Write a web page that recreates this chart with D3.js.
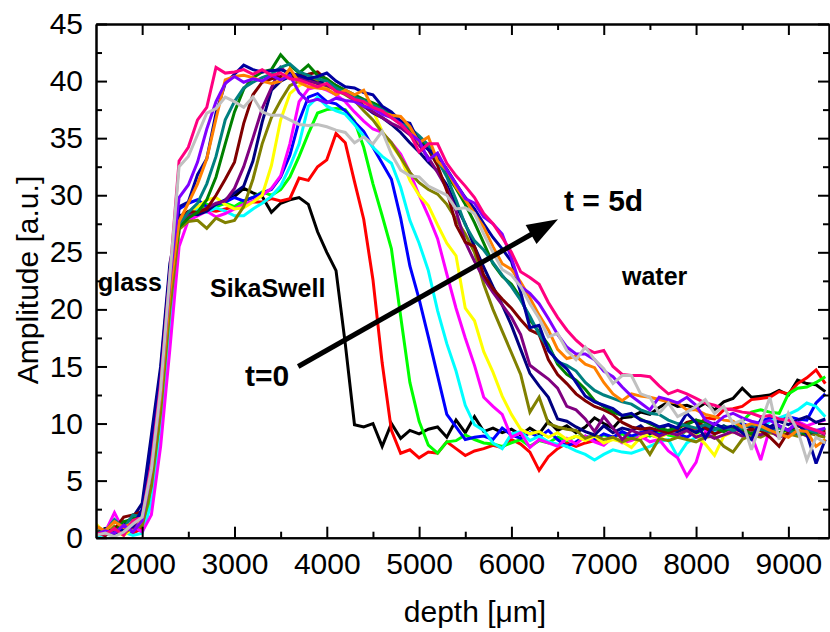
<!DOCTYPE html>
<html>
<head>
<meta charset="utf-8">
<script src="https://cdn.jsdelivr.net/npm/d3@7"></script>
<style>
  html, body { margin: 0; padding: 0; background: #fff; }
  svg { display: block; font-family: "Liberation Sans", Arial, Helvetica, sans-serif; }
</style>
</head>
<body>
<svg id="chart" width="830" height="632"></svg>
<script>
// Depth sampling positions (µm), shared by every profile
const depth = [
  1500,1600,1700,1800,1900,2000,2100,2200,2300,2400,
  2500,2600,2700,2800,2900,3000,3100,3200,3300,3400,
  3500,3600,3700,3800,3900,4000,4100,4200,4300,4400,
  4500,4600,4700,4800,4900,5000,5100,5200,5300,5400,
  5500,5600,5700,5800,5900,6000,6100,6200,6300,6400,
  6500,6600,6700,6800,6900,7000,7100,7200,7300,7400,
  7500,7600,7700,7800,7900,8000,8100,8200,8300,8400,
  8500,8600,8700,8800,8900,9000,9100,9200,9300,9400
];

// Amplitude profiles [a.u.], one per measurement time (t = 0 ... 5 d)
const ampBlack = [
  0.5,0.8,0.3,1.0,1.2,2.0,7.5,13.0,21.0,27.5,
  28.3,28.5,28.6,29.0,29.5,29.9,30.6,30.2,29.9,28.5,
  29.3,29.6,29.8,29.2,26.8,25.0,23.4,17.0,9.9,9.7,
  10.0,8.0,10.0,8.7,9.4,9.1,9.5,9.7,8.8,10.3,
  9.2,10.6,9.3,9.6,9.2,9.5,9.0,9.6,9.1,10.2,
  9.4,9.8,9.2,9.7,10.5,10.0,9.6,10.5,10.6,11.0,
  10.8,11.4,11.9,11.5,11.6,11.3,11.8,11.2,11.9,12.2,
  13.1,12.3,12.4,12.5,12.9,12.5,13.8,13.5,13.4,12.8
];
const ampRed = [
  0.3,0.5,0.2,0.6,0.4,0.8,3.5,10.0,19.0,27.0,
  28.2,28.5,28.7,28.6,28.8,29.0,29.2,29.4,29.4,29.7,
  29.5,29.7,31.5,31.3,32.5,33.1,35.4,34.6,31.2,27.9,
  22.6,15.3,9.4,7.4,7.7,7.0,7.5,7.4,8.4,7.8,
  7.2,7.6,7.8,8.1,7.9,8.6,8.2,7.5,5.9,7.1,
  7.8,8.3,8.0,8.3,8.5,8.2,8.8,8.4,8.9,8.7,
  9.0,8.8,9.3,9.1,9.7,9.5,10.5,10.4,11.2,11.3,
  11.5,12.1,12.2,12.3,12.8,12.6,13.5,14.0,14.7,13.5
];
const ampLime = [
  0.2,0.4,0.6,0.3,0.8,1.0,4.0,10.5,19.5,27.2,
  28.4,28.7,29.2,29.0,29.3,29.0,29.5,29.8,30.3,30.0,
  30.5,31.6,33.4,35.4,37.2,37.5,37.6,37.5,36.5,34.2,
  31.0,28.2,25.3,19.4,13.6,10.2,8.1,7.4,8.4,8.5,
  9.0,8.6,8.3,8.2,8.0,8.3,8.6,8.0,8.5,8.3,
  8.8,8.5,8.9,8.6,8.7,9.0,8.8,9.1,8.7,9.2,
  8.9,9.3,9.0,8.8,9.4,9.1,9.6,9.3,9.8,9.5,
  10.2,11.0,11.2,11.0,10.9,12.6,13.1,13.2,13.6,14.1
];
const ampBlue = [
  0.4,0.2,0.7,0.3,0.6,1.4,6.0,12.5,21.5,28.8,
  29.3,29.6,29.0,29.2,29.4,29.8,29.5,29.8,30.2,30.5,
  31.6,33.5,36.5,38.6,38.9,38.2,38.0,37.4,36.4,35.6,
  34.2,32.8,31.4,28.0,23.8,20.9,17.6,14.2,10.8,9.7,
  8.6,8.8,8.9,8.6,9.6,9.0,8.7,9.2,8.8,9.4,
  8.6,8.0,8.4,8.9,8.6,9.1,8.8,9.3,8.9,9.2,
  9.5,9.0,9.4,9.1,8.8,9.3,9.6,9.2,9.7,9.4,
  10.0,9.7,10.2,10.5,10.3,10.6,10.4,10.3,11.8,12.6
];
const ampCyan = [
  0.1,0.3,0.2,0.5,0.2,0.4,3.0,9.0,18.0,27.0,
  28.2,28.8,28.5,28.9,28.6,28.2,28.2,28.8,29.3,29.9,
  30.8,32.5,34.5,37.8,38.6,37.8,37.4,37.1,36.2,35.2,
  34.2,33.4,32.8,30.7,27.8,25.8,23.4,19.9,17.0,14.6,
  11.6,9.9,9.4,8.3,7.8,9.1,9.3,8.5,8.9,8.4,
  8.2,8.0,7.6,7.3,6.8,7.3,7.7,7.5,7.4,7.7,
  8.0,8.4,8.6,7.1,8.3,8.8,9.0,9.3,9.5,9.7,
  9.6,9.9,9.4,10.2,10.5,10.8,11.2,11.8,11.5,10.6
];
const ampMagenta = [
  0.3,0.5,2.2,0.6,1.0,0.5,2.0,8.0,16.5,25.5,
  27.8,28.2,28.6,28.1,28.4,28.8,29.2,29.5,30.0,30.6,
  31.7,34.5,38.2,39.3,39.5,39.2,38.8,38.2,37.3,36.5,
  35.8,35.5,34.6,33.6,32.0,30.0,28.2,26.2,23.1,20.1,
  17.5,15.1,12.3,11.5,10.8,8.8,9.2,7.9,8.6,8.3,
  8.0,8.7,8.2,8.9,8.4,8.1,8.8,8.3,8.5,8.9,
  8.4,8.6,7.6,7.0,5.4,6.6,9.3,9.1,9.4,9.2,
  9.5,9.0,6.8,9.6,9.8,9.4,10.2,9.8,10.1,10.3
];
const ampYellow = [
  1.2,0.4,0.6,0.2,0.8,1.2,5.0,11.5,20.5,27.3,
  28.4,29.0,29.6,29.8,29.2,28.8,28.9,29.4,30.0,32.6,
  36.6,38.9,39.6,40.0,39.7,39.4,39.6,39.1,38.4,37.9,
  37.4,35.6,34.4,33.3,31.3,30.0,29.1,27.4,25.8,24.7,
  20.1,19.0,16.3,14.5,12.4,10.8,9.5,9.1,9.3,8.8,
  9.2,8.6,8.9,8.5,8.9,8.3,8.6,8.4,7.9,8.8,
  9.1,8.7,9.2,9.0,9.4,9.0,8.2,7.2,8.9,9.3,
  8.9,9.5,9.1,9.4,9.0,9.5,9.2,9.6,9.3,9.5
];
const ampOlive = [
  0.6,0.2,1.0,0.4,0.9,1.0,4.5,11.0,20.0,27.0,
  27.7,27.8,27.1,28.0,27.6,27.8,29.0,31.4,34.5,36.8,
  38.3,39.6,40.0,40.3,40.0,39.6,39.2,38.8,38.3,37.4,
  36.6,35.5,34.6,33.3,32.0,31.1,30.5,30.1,29.2,27.9,
  26.6,25.0,22.2,20.0,18.1,16.2,14.3,11.0,12.3,10.0,
  9.7,9.5,9.4,8.7,9.0,8.6,8.8,8.4,8.7,8.5,
  7.3,8.7,8.5,8.8,8.6,8.4,8.8,8.9,8.0,7.5,
  8.6,9.0,8.8,9.2,9.0,9.1,8.9,9.2,9.0,8.8
];
const ampNavy = [
  0.3,0.8,0.4,1.2,1.8,3.0,9.0,15.0,24.0,28.2,
  28.4,28.3,28.6,29.2,29.6,30.2,30.8,33.0,36.4,39.2,
  40.0,40.4,40.6,40.2,39.8,40.1,39.5,39.0,38.5,37.8,
  37.2,36.8,36.2,35.5,34.6,33.8,32.9,32.1,30.9,29.1,
  27.5,25.5,23.7,22.0,20.4,18.6,16.5,14.4,13.3,12.3,
  10.4,10.2,9.7,9.3,9.0,9.8,9.2,9.6,9.4,9.8,
  9.1,9.5,9.9,9.3,9.6,9.2,9.7,9.5,9.8,9.3,
  9.9,9.6,10.1,9.7,10.2,9.9,10.3,10.6,10.1,10.4
];
const ampPurple = [
  0.2,0.5,0.3,0.7,0.9,2.0,7.0,13.5,22.5,27.6,
  28.2,28.5,28.9,29.3,29.5,30.6,32.5,35.0,37.6,39.4,
  41.2,40.5,40.3,40.0,39.8,39.6,39.3,38.9,38.4,37.8,
  37.3,36.8,36.3,35.9,35.3,34.4,33.3,32.0,30.6,28.6,
  25.9,24.2,22.7,21.5,20.4,19.3,17.8,15.1,14.5,13.9,
  13.1,11.5,11.2,10.4,9.3,10.6,9.6,8.6,9.4,9.1,
  9.3,8.9,9.2,9.0,9.4,8.8,9.1,8.7,9.0,9.3,
  8.9,9.2,9.0,9.4,8.8,9.1,9.3,8.9,9.4,9.0
];
const ampMaroon = [
  0.4,0.2,0.7,1.8,2.0,2.3,7.5,14.0,23.0,28.0,
  28.6,28.5,28.8,30.0,31.4,32.9,36.3,38.8,39.9,40.2,
  40.4,40.3,40.5,40.6,40.8,40.1,39.6,39.1,38.7,38.2,
  37.8,37.3,36.9,36.4,35.8,35.0,34.0,32.6,30.4,27.4,
  25.9,25.5,23.0,21.8,20.9,20.1,19.1,18.2,17.8,15.6,
  14.3,13.5,12.6,12.0,11.5,11.2,10.8,10.1,9.7,9.5,
  9.6,9.4,9.2,9.5,10.1,10.3,9.6,9.1,9.4,9.6,
  9.3,9.5,9.4,8.8,8.0,9.3,9.8,9.5,9.2,9.4
];
const ampGreen = [
  0.3,0.7,0.5,1.4,1.6,2.2,7.0,13.5,22.0,27.2,
  28.0,28.5,29.6,31.6,34.5,37.3,39.3,40.3,40.8,41.0,
  42.3,41.4,40.7,41.4,40.5,40.2,39.6,39.2,38.8,38.4,
  38.1,37.7,37.0,36.5,35.8,35.0,34.2,33.0,31.8,30.6,
  29.2,27.6,25.8,24.0,22.9,22.2,21.0,19.1,18.0,16.9,
  15.2,14.3,13.8,13.0,12.0,11.5,11.0,10.7,10.8,10.4,
  10.0,9.6,9.4,9.7,9.9,10.3,10.1,9.6,9.3,9.7,
  9.5,9.1,9.6,9.4,9.2,9.5,9.3,9.0,9.4,9.1
];
const ampTeal = [
  1.0,0.5,1.6,0.8,2.0,1.8,7.0,13.5,22.5,27.5,
  28.5,29.3,31.0,33.4,36.6,38.2,39.4,39.9,40.3,40.6,
  41.2,41.5,40.8,40.5,40.2,40.0,39.4,39.0,38.6,38.3,
  37.9,37.5,36.9,36.4,35.9,35.2,34.4,33.1,31.6,29.6,
  27.4,26.0,25.2,24.1,23.0,22.0,20.8,19.4,17.8,16.6,
  15.4,15.1,14.6,13.6,12.9,12.5,12.2,11.9,11.7,11.2,
  10.9,10.8,10.3,10.0,9.8,9.6,9.9,9.5,9.7,9.4,
  9.6,9.9,9.5,9.3,9.6,9.4,9.1,9.5,9.2,9.6
];
const ampRoyal = [
  0.2,0.5,0.3,0.8,1.0,2.5,8.5,14.5,23.5,29.0,
  29.4,31.8,33.2,37.2,39.8,40.6,41.4,41.0,40.8,40.9,
  41.0,40.7,40.5,40.2,40.4,40.7,40.0,39.5,39.4,39.0,
  38.8,37.8,37.3,36.5,36.3,34.6,34.0,33.4,32.3,31.0,
  29.8,28.8,27.5,26.3,25.3,24.2,21.5,18.4,18.6,16.4,
  15.5,14.8,13.6,12.4,11.9,11.6,11.3,10.7,10.9,10.3,
  10.1,9.7,9.9,9.6,10.9,10.1,8.7,10.0,9.6,9.8,
  9.2,8.6,10.3,9.5,9.8,9.4,10.0,9.1,6.5,8.6
];
const ampOrange = [
  1.0,0.6,1.4,0.9,1.3,1.6,6.0,12.5,21.5,27.7,
  29.3,31.0,33.2,36.7,40.1,40.4,40.5,40.3,40.0,39.8,
  40.0,41.1,39.9,39.5,39.4,39.3,38.8,39.2,38.8,39.2,
  37.6,37.2,37.0,36.9,36.0,34.6,35.1,33.0,32.2,30.7,
  29.6,28.4,27.2,25.5,24.0,23.5,22.4,21.0,19.5,18.2,
  16.5,15.7,15.9,15.2,14.9,13.6,12.6,12.0,12.6,12.4,
  12.3,12.1,11.9,11.8,11.2,11.2,10.8,10.6,10.3,10.2,
  9.7,10.0,9.8,9.4,9.1,8.8,9.4,9.3,8.0,8.6
];
const ampViolet = [
  0.3,0.6,0.4,1.1,0.5,1.5,6.0,13.0,22.5,29.8,
  30.9,32.9,35.8,38.2,39.8,40.4,39.9,40.2,40.0,40.5,
  40.1,40.5,39.0,38.2,38.4,38.1,38.5,38.3,38.2,37.8,
  37.6,37.1,36.8,36.3,35.4,34.8,33.1,33.7,32.2,31.0,
  29.7,29.3,28.1,27.5,26.6,24.5,22.0,21.4,20.5,19.2,
  17.8,16.7,16.1,16.1,15.6,14.6,14.1,13.2,12.4,11.8,
  11.2,12.3,12.1,11.8,12.3,11.6,10.3,9.9,10.6,10.9,
  10.5,10.2,10.0,10.3,9.8,9.4,10.1,9.6,9.4,9.6
];
const ampPink = [
  0.4,0.3,0.8,0.2,1.5,1.8,6.5,13.5,23.0,33.0,
  34.2,36.6,37.7,41.2,40.7,40.8,41.0,40.6,41.0,40.5,
  40.7,40.2,40.1,39.8,39.5,39.8,39.1,38.9,38.4,38.2,
  37.7,37.4,36.8,36.2,35.4,33.8,34.5,34.5,32.8,31.7,
  30.8,29.8,28.4,27.5,26.3,25.0,23.3,22.8,22.2,20.6,
  19.3,18.2,17.3,16.6,16.2,16.4,15.0,14.3,14.2,14.2,
  14.1,13.3,12.6,12.9,12.6,12.2,11.8,11.6,11.3,11.2,
  11.0,10.9,10.6,10.7,10.4,10.3,10.0,9.7,9.4,9.1
];
const ampGray = [
  0.2,0.4,0.1,0.5,1.2,1.8,6.0,13.0,23.0,32.5,
  33.4,35.3,37.2,37.6,38.6,38.2,37.7,38.6,37.3,37.0,
  37.0,36.6,36.2,36.1,36.2,36.0,35.7,35.5,34.6,35.1,
  34.5,35.6,33.6,32.2,31.7,31.6,30.8,30.4,30.0,28.8,
  28.9,28.4,26.6,25.0,23.5,23.0,22.0,20.5,19.2,17.6,
  17.9,16.4,15.6,16.7,15.6,14.8,13.5,14.2,14.2,12.6,
  12.3,10.9,11.8,10.6,11.0,11.5,12.1,10.9,11.5,10.0,
  10.3,7.7,10.0,12.3,8.6,10.9,9.4,6.8,8.8,8.3
];

const profiles = [ampBlack, ampRed, ampLime, ampBlue, ampCyan, ampMagenta, ampYellow,
  ampOlive, ampNavy, ampPurple, ampMaroon, ampGreen, ampTeal, ampRoyal, ampOrange,
  ampViolet, ampPink, ampGray];
const profileColors = ["#000000", "#ff0000", "#00ff00", "#0000ff", "#00ffff", "#ff00ff", "#ffff00",
  "#808000", "#000080", "#800080", "#800000", "#008000", "#008080", "#0000a0", "#ff8000",
  "#8000ff", "#ff0080", "#c0c0c0"];

const xTicks = [2000, 3000, 4000, 5000, 6000, 7000, 8000, 9000];
const xMinorTicks = [2500, 3500, 4500, 5500, 6500, 7500, 8500];
const yTicks = [0, 5, 10, 15, 20, 25, 30, 35, 40, 45];
const yMinorTicks = [2.5, 7.5, 12.5, 17.5, 22.5, 27.5, 32.5, 37.5, 42.5];

// ---- layout ----
const plot = { left: 96, right: 829, top: 24, bottom: 537.7 };
const svg = d3.select("#chart");

const x = d3.scaleLinear().domain([1500, 9440]).range([plot.left, plot.right]);
const y = d3.scaleLinear().domain([0, 45]).range([plot.bottom, plot.top]);

svg.append("defs").append("clipPath").attr("id", "plot-clip")
  .append("rect")
  .attr("x", plot.left).attr("y", plot.top)
  .attr("width", plot.right - plot.left).attr("height", plot.bottom - plot.top);

// ---- profiles ----
const line = d3.line()
  .x((d, i) => x(depth[i]))
  .y(d => y(d));

const curves = svg.append("g").attr("clip-path", "url(#plot-clip)");
profiles.forEach((vals, k) => {
  curves.append("path")
    .attr("d", line(vals))
    .attr("fill", "none")
    .attr("stroke", profileColors[k])
    .attr("stroke-width", 3)
    .attr("stroke-linejoin", "miter")
    .attr("stroke-miterlimit", 3);
});

// ---- frame with inward ticks on all four sides ----
function styleAxis(g, fontSize) {
  g.selectAll(".domain").attr("stroke", "#000").attr("stroke-width", 2);
  g.selectAll(".tick line").attr("stroke", "#000").attr("stroke-width", 2);
  g.selectAll("text").attr("fill", "#000").attr("font-size", fontSize)
    .attr("font-family", "\"Liberation Sans\", Arial, Helvetica, sans-serif");
}

const gBottom = svg.append("g").attr("transform", `translate(0,${plot.bottom})`)
  .call(d3.axisBottom(x).tickValues(xTicks).tickSize(-11).tickSizeOuter(0).tickPadding(15)
    .tickFormat(d3.format("d")));
styleAxis(gBottom, 30);
const gBottomMinor = svg.append("g").attr("transform", `translate(0,${plot.bottom})`)
  .call(d3.axisBottom(x).tickValues(xMinorTicks).tickSize(-6).tickSizeOuter(0).tickFormat(""));
styleAxis(gBottomMinor, 30);

const gTop = svg.append("g").attr("transform", `translate(0,${plot.top})`)
  .call(d3.axisTop(x).tickValues(xTicks).tickSize(-11).tickSizeOuter(0).tickFormat(""));
styleAxis(gTop, 30);
const gTopMinor = svg.append("g").attr("transform", `translate(0,${plot.top})`)
  .call(d3.axisTop(x).tickValues(xMinorTicks).tickSize(-6).tickSizeOuter(0).tickFormat(""));
styleAxis(gTopMinor, 30);

const gLeft = svg.append("g").attr("transform", `translate(${plot.left},0)`)
  .call(d3.axisLeft(y).tickValues(yTicks).tickSize(-11).tickSizeOuter(0).tickPadding(13));
styleAxis(gLeft, 30);
const gLeftMinor = svg.append("g").attr("transform", `translate(${plot.left},0)`)
  .call(d3.axisLeft(y).tickValues(yMinorTicks).tickSize(-6).tickSizeOuter(0).tickFormat(""));
styleAxis(gLeftMinor, 30);

const gRight = svg.append("g").attr("transform", `translate(${plot.right},0)`)
  .call(d3.axisRight(y).tickValues(yTicks).tickSize(-11).tickSizeOuter(0).tickFormat(""));
styleAxis(gRight, 30);
const gRightMinor = svg.append("g").attr("transform", `translate(${plot.right},0)`)
  .call(d3.axisRight(y).tickValues(yMinorTicks).tickSize(-6).tickSizeOuter(0).tickFormat(""));
styleAxis(gRightMinor, 30);

// ---- axis titles ----
svg.append("text")
  .attr("x", 475).attr("y", 621.5)
  .attr("text-anchor", "middle")
  .attr("font-size", 30)
  .text("depth [\u03bcm]");

svg.append("text")
  .attr("transform", "translate(38,280) rotate(-90)")
  .attr("text-anchor", "middle")
  .attr("font-size", 30)
  .text("Amplitude [a.u.]");

// ---- region labels ----
const ann = svg.append("g").attr("font-weight", "bold").attr("fill", "#000");
ann.append("text").attr("x", 98).attr("y", 290.5).attr("font-size", 25).text("glass");
ann.append("text").attr("x", 210).attr("y", 297).attr("font-size", 25).text("SikaSwell");
ann.append("text").attr("x", 622).attr("y", 285).attr("font-size", 25).text("water");
ann.append("text").attr("x", 245).attr("y", 386).attr("font-size", 30).text("t=0");
ann.append("text").attr("x", 564).attr("y", 210.5).attr("font-size", 30).text("t = 5d");

// ---- time arrow (depth/amplitude coordinates) ----
const arrowFrom = [3690, 15.0];
const arrowTo = [6505, 27.9];
const x0 = x(arrowFrom[0]), y0 = y(arrowFrom[1]);
const x1 = x(arrowTo[0]), y1 = y(arrowTo[1]);
const ang = Math.atan2(y1 - y0, x1 - x0);
const headLen = 31, headHalf = 11;
const bx = x1 - headLen * Math.cos(ang), by = y1 - headLen * Math.sin(ang);
svg.append("line")
  .attr("x1", x0).attr("y1", y0)
  .attr("x2", bx + 4 * Math.cos(ang)).attr("y2", by + 4 * Math.sin(ang))
  .attr("stroke", "#000").attr("stroke-width", 5);
svg.append("path")
  .attr("d", d3.line()([
    [x1, y1],
    [bx - headHalf * Math.sin(ang), by + headHalf * Math.cos(ang)],
    [bx + headHalf * Math.sin(ang), by - headHalf * Math.cos(ang)]
  ]) + "Z")
  .attr("fill", "#000");
</script>
</body>
</html>
